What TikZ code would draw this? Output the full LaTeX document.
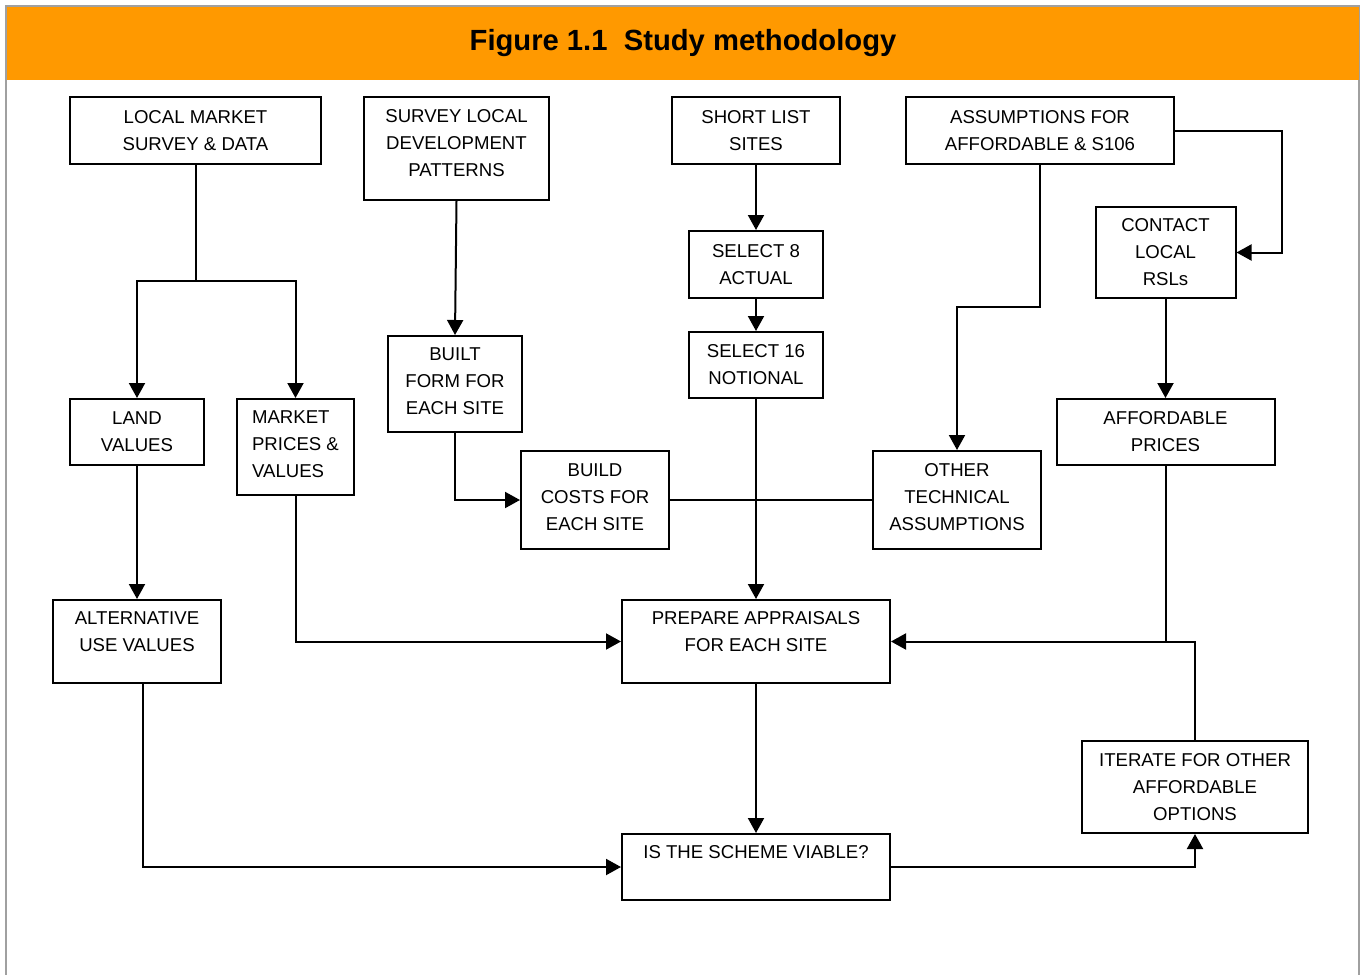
\documentclass[tikz,border=0pt]{standalone}
\usepackage{fontspec}
\setmainfont{Liberation Sans}
\usepackage{xcolor}
\usepackage{tikz}
\usetikzlibrary{arrows.meta, calc}
\definecolor{hdrorange}{HTML}{FF9900}
\definecolor{framegray}{HTML}{A0A0A0}

\begin{document}
\begin{tikzpicture}[
  x=0.5pt, y=-0.5pt,
  box/.style={rectangle, draw, line width=1pt, align=center, inner sep=2pt,
              font=\fontsize{9.3}{13.5}\selectfont},
  hdr/.style={rectangle, fill=hdrorange, inner sep=0pt,
              font=\fontsize{14.6}{17}\selectfont\bfseries},
  arr/.style={-{Triangle[length=7.5pt, width=8pt]}, line width=1pt},
  lnk/.style={line width=1pt},
]
\useasboundingbox (0,0) rectangle (1362,975);

%% ---- frame and header ----
\draw[framegray, line width=1pt] (6,975) -- (6,6) -- (1359,6) -- (1359,975);
\node[hdr, minimum width=676pt, minimum height=36.5pt] (head) at (683,43.5)
      {Figure 1.1\ \ Study methodology};

%% ---- top row ----
\node[box, minimum width=125.5pt, minimum height=33.5pt] (lms)    at (195.5,130.5) {LOCAL MARKET\\SURVEY \& DATA};
\node[box, minimum width=92.5pt,  minimum height=51.5pt] (sldp)   at (456.5,148.5) {SURVEY LOCAL\\DEVELOPMENT\\PATTERNS\\[-8.5pt]\mbox{}};
\node[box, minimum width=84pt,    minimum height=33.5pt] (short)  at (756,130.5)   {SHORT LIST\\SITES};
\node[box, minimum width=134pt,   minimum height=33.5pt] (assume) at (1040,130.5)  {ASSUMPTIONS FOR\\AFFORDABLE \& S106};

%% ---- middle rows ----
\node[box, minimum width=70pt,   minimum height=45.5pt] (contact) at (1165.5,252.5) {CONTACT\\LOCAL\\RSLs};
\node[box, minimum width=67pt,   minimum height=33.5pt] (sel8)    at (756,264.5)  {SELECT 8\\ACTUAL};
\node[box, minimum width=67pt,   minimum height=33pt]   (sel16)   at (756,365)    {SELECT 16\\NOTIONAL};
\node[box, minimum width=67pt,   minimum height=48pt]   (built)   at (455,384)    {BUILT\\FORM FOR\\EACH SITE\\[-10.5pt]\mbox{}};
\node[box, minimum width=67pt,   minimum height=33pt]   (land)    at (137,432)    {LAND\\VALUES};
\node[box, minimum width=58.5pt, minimum height=48pt, align=left] (mkt) at (295.5,447) {MARKET\\PRICES \&\\VALUES\\[-11pt]\mbox{}};
\node[box, minimum width=74pt,   minimum height=49pt]   (bcost)   at (595,500)    {BUILD\\COSTS FOR\\EACH SITE\\[-10.5pt]\mbox{}};
\node[box, minimum width=84pt,   minimum height=49pt]   (other)   at (957,500)    {OTHER\\TECHNICAL\\ASSUMPTIONS\\[-10.5pt]\mbox{}};
\node[box, minimum width=109pt,  minimum height=33pt]   (affp)    at (1165.5,432) {AFFORDABLE\\PRICES};

%% ---- lower rows ----
\node[box, minimum width=84pt,  minimum height=41.5pt] (altuse) at (137,641.5) {ALTERNATIVE\\USE VALUES\\[-3.5pt]\mbox{}};
\node[box, minimum width=134pt, minimum height=41.5pt] (prep)   at (756,641.5) {PREPARE APPRAISALS\\FOR EACH SITE\\[-3.5pt]\mbox{}};
\node[box, minimum width=113pt, minimum height=46pt]   (iter)   at (1195,787)  {ITERATE FOR OTHER\\AFFORDABLE\\OPTIONS};
\node[box, minimum width=134pt, minimum height=33pt]   (viable) at (756,867)   {IS THE SCHEME VIABLE?\\[1.5pt]\mbox{}};

%% ---- connectors ----
\coordinate (split) at (195.5,281);
\draw[lnk] (lms.south) -- (split);
\draw[arr] (split) -| (land.north);
\draw[arr] (split) -| (mkt.north);
\draw[arr] (sldp.south) -- (built.north);
\draw[arr] (built.south) |- (bcost.west);
\draw[arr] (short.south) -- (sel8.north);
\draw[arr] (sel8.south) -- (sel16.north);
\draw[arr] (sel16.south) -- (prep.north);
\draw[lnk] (bcost.east) -- (other.west);
\coordinate (abend) at (1040,307);
\draw[arr] (assume.south) -- (abend) -| (other.north);
\coordinate (aright) at (1282,130.5);
\draw[arr] (assume.east) -- (aright) |- (contact.east);
\draw[arr] (contact.south) -- (affp.north);
\draw[lnk] (affp.south) -- (affp.south |- prep.east);
\draw[arr] (iter.north) |- (prep.east);
\draw[arr] (mkt.south) |- (prep.west);
\draw[arr] (land.south) -- (altuse.north);
\draw[arr] ([xshift=3pt]altuse.south) |- (viable.west);
\draw[arr] (prep.south) -- (viable.north);
\draw[arr] (viable.east) -| (iter.south);

\end{tikzpicture}
\end{document}
